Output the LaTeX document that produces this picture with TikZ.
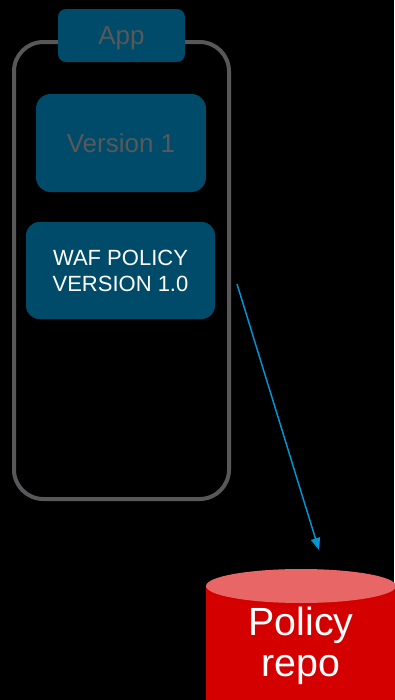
\documentclass[tikz,border=0pt]{standalone}
\usepackage{fontspec}
\setmainfont{Liberation Sans}
\usetikzlibrary{arrows.meta}

\definecolor{boxblue}{RGB}{0,75,106}
\definecolor{dimtext}{RGB}{88,88,88}
\definecolor{phonegray}{RGB}{88,88,90}
\definecolor{linkblue}{RGB}{0,150,214}
\definecolor{repored}{RGB}{212,0,0}
\definecolor{repotop}{RGB}{232,102,102}

\tikzset{appbox/.style={fill=boxblue, draw=none, align=center, inner sep=0pt}}

\begin{document}
\begin{tikzpicture}[x=0.75pt, y=-0.75pt]

\fill[black] (0,0) rectangle (394,700); \useasboundingbox (0,0) rectangle (394,700);

%%%%% phone frame and its tab
\node [draw=phonegray, line width=3pt, rounded corners=22pt, minimum width=161.25pt, minimum height=342.75pt] (phone) at (121.5,270.5) {};
\node [appbox, rounded corners=6pt, minimum width=95.25pt, minimum height=39.75pt, text=dimtext, text depth=0pt, font=\fontsize{19.5}{23}\selectfont] (app) at (121.5,35.5) {App};

%%%%% boxes inside
\node [appbox, rounded corners=11pt, minimum width=127.5pt, minimum height=73.5pt, text=dimtext, font=\fontsize{19.5}{23}\selectfont] (version) at (121,143) {Version 1};
\node [appbox, rounded corners=10pt, minimum width=141.75pt, minimum height=72.75pt, text=white, font=\fontsize{16.5}{19.5}\selectfont] (waf) at (120.5,270.5) {WAF POLICY\\VERSION 1.0};

%%%%% repo
\fill[repored] (206,586) rectangle (396,717); \fill[repored] (301,717) ellipse [x radius=95, y radius=17];
\fill[repotop] (301,586) ellipse [x radius=95, y radius=17];
\node [align=center, text=white, inner sep=0pt, font=\fontsize{29.5}{31}\selectfont] (repo) at (301,645.5) {Policy\\repo};

\coordinate (push start) at (237,284); \coordinate (push end) at (319,550);
\draw[linkblue, line width=1.1pt, -{Triangle[length=9pt, width=7pt]}] (push start)--(push end);

\end{tikzpicture}
\end{document}
